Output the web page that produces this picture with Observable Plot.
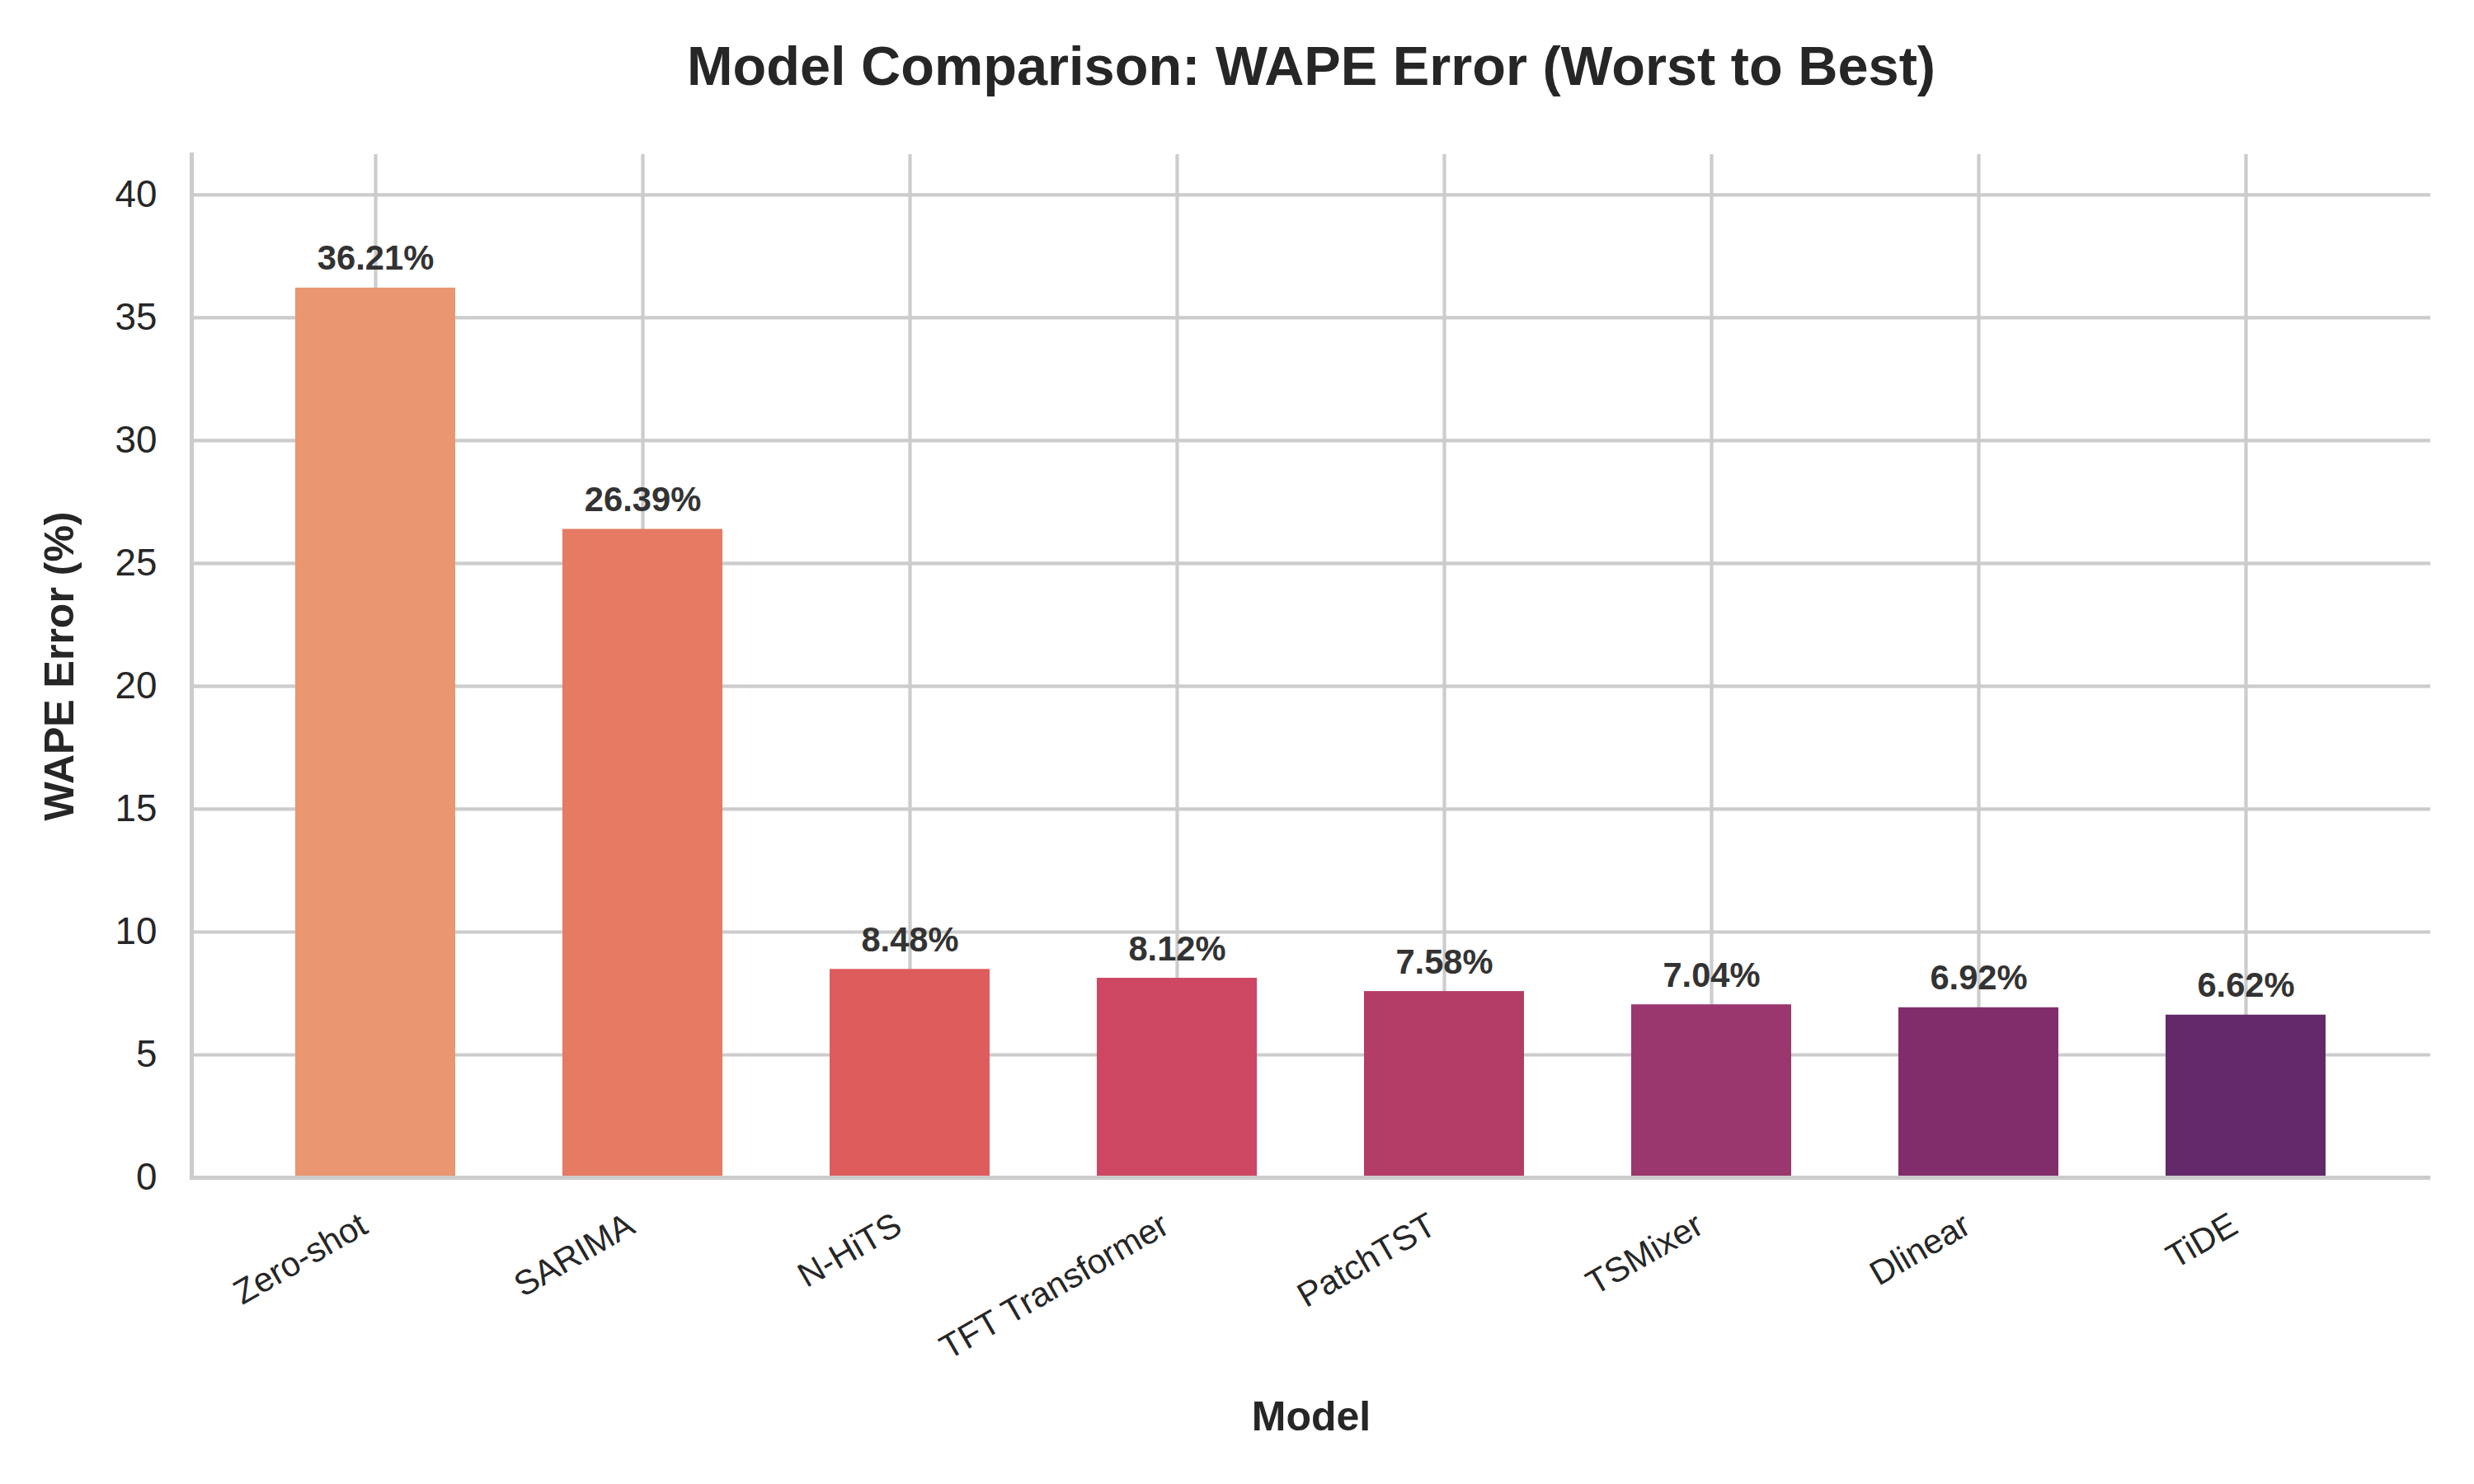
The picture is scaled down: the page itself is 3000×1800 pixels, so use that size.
<!DOCTYPE html>
<html>
<head>
<meta charset="utf-8">
<script src="https://cdn.jsdelivr.net/npm/d3@7"></script>
<script src="https://cdn.jsdelivr.net/npm/@observablehq/plot@0.6"></script>
<style>
  html, body { margin: 0; padding: 0; background: white; }
</style>
</head>
<body>
<div id="chart"></div>
<script>
const models = ["Zero-shot", "SARIMA", "N-HiTS", "TFT Transformer", "PatchTST", "TSMixer", "Dlinear", "TiDE"];
const wape = [36.21, 26.39, 8.48, 8.12, 7.58, 7.04, 6.92, 6.62];
const colors = ["#EA9670", "#E67A62", "#DF5C5C", "#CD4762", "#B43D67", "#9A376E", "#812D6C", "#64296A"];
const yTicks = [0, 5, 10, 15, 20, 25, 30, 35, 40];
const titleText = "Model Comparison: WAPE Error (Worst to Best)";
const yLabel = "WAPE Error (%)";
const xLabel = "Model";

const data = models.map((m, i) => ({model: m, value: wape[i], color: colors[i]}));
const yMax = d3.max(wape) * 1.15;

const font = "'Liberation Sans', Arial, Helvetica, sans-serif";
const textColor = "#262626";
const gridColor = "#cccccc";

const chart = Plot.plot({
  width: 3000,
  height: 1800,
  marginTop: 187,
  marginBottom: 372,
  marginLeft: 232,
  marginRight: 53,
  style: {fontFamily: font, background: "white"},
  x: {domain: models, paddingInner: 0.4, paddingOuter: 0.38, axis: null},
  y: {domain: [0, yMax], axis: null},
  color: {type: "identity"},
  marks: [
    Plot.gridY(yTicks, {stroke: gridColor, strokeOpacity: 1, strokeWidth: 4.2}),
    Plot.gridX({stroke: gridColor, strokeOpacity: 1, strokeWidth: 4.2}),
    Plot.barY(data, {x: "model", y: "value", fill: "color"}),
    Plot.ruleY([0], {stroke: gridColor, strokeWidth: 5.2}),
    Plot.frame({anchor: "left", stroke: gridColor, strokeWidth: 5.2}),
    Plot.axisY(yTicks, {tickSize: 0, tickPadding: 42, fontSize: 45.8, fill: textColor, label: null}),
    Plot.text(data, {x: "model", y: "value", text: d => d.value.toFixed(2) + "%", dy: -22, lineAnchor: "bottom", fontSize: 41.7, fontWeight: "bold", fill: "#333333"}),
    Plot.text(models, {x: d => d, frameAnchor: "bottom", rotate: -30, textAnchor: "end", lineAnchor: "top", dx: -22, dy: 40, fontSize: 41.7, fill: textColor}),
    Plot.text([titleText], {frameAnchor: "top", dy: -85, lineAnchor: "bottom", fontSize: 66.7, fontWeight: "bold", fill: textColor}),
    Plot.text([yLabel], {frameAnchor: "left", rotate: -90, dx: -144, lineAnchor: "bottom", textAnchor: "middle", fontSize: 50, fontWeight: "bold", fill: textColor}),
    Plot.text([xLabel], {frameAnchor: "bottom", dy: 306, lineAnchor: "bottom", fontSize: 50, fontWeight: "bold", fill: textColor})
  ]
});
document.getElementById("chart").appendChild(chart);
</script>
</body>
</html>
